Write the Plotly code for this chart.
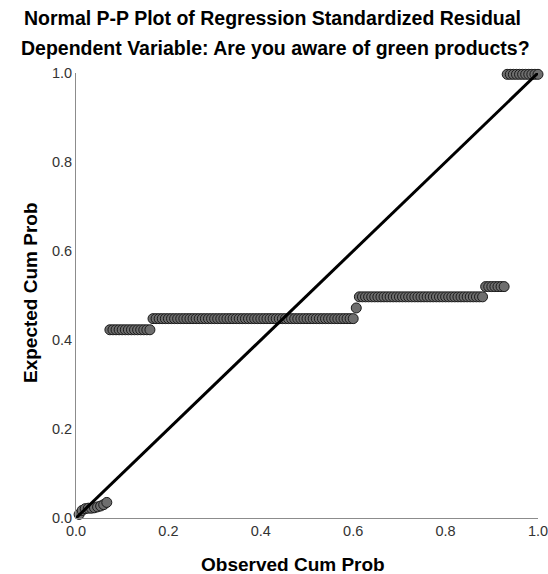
import plotly.graph_objects as go

# Expected cumulative probability levels (runs of tied residuals) and how many cases sit at each level
expected_levels = [0.008, 0.017, 0.021, 0.022, 0.022, 0.023, 0.025, 0.027, 0.030, 0.035,
                   0.423, 0.448, 0.472, 0.497, 0.520, 0.997]
level_counts = [1, 1, 1, 1, 1, 1, 1, 1, 1, 1,
                14, 66, 1, 41, 7, 11]
n_cases = 150

tick_vals = [0.0, 0.2, 0.4, 0.6, 0.8, 1.0]
tick_text = ["0.0", "0.2", "0.4", "0.6", "0.8", "1.0"]

title_line1 = "Normal P-P Plot of Regression Standardized Residual"
title_line2 = "Dependent Variable: Are you aware of green products?"
x_title = "Observed Cum Prob"
y_title = "Expected Cum Prob"

# Build observed (rank / n) and expected arrays from the runs
observed, expected = [], []
rank = 0
for lvl, cnt in zip(expected_levels, level_counts):
    for _ in range(cnt):
        rank += 1
        observed.append(rank / n_cases)
        expected.append(lvl)

FONT = "Liberation Sans, Arial, sans-serif"

W, H = 548, 574
L, R, T, B = 76, 548 - 538, 73, 574 - 518

fig = go.Figure()
fig.add_trace(go.Scatter(
    x=observed, y=expected, mode="markers",
    marker=dict(size=10, color="#6e6e6e", line=dict(color="#1a1a1a", width=1)),
    cliponaxis=False, hoverinfo="skip", showlegend=False,
))
fig.add_trace(go.Scatter(
    x=[0, 1], y=[0, 1], mode="lines",
    line=dict(color="black", width=3),
    cliponaxis=False, hoverinfo="skip", showlegend=False,
))

axis_common = dict(
    range=[0, 1], tickvals=tick_vals, ticktext=tick_text,
    showgrid=False, zeroline=False, showline=True, linecolor="#8c8c8c", linewidth=1,
    ticks="", tickfont=dict(family=FONT, size=14.5, color="#333333"),
    ticklabeloverflow="allow", automargin=False, fixedrange=True,
)
fig.update_xaxes(**axis_common)
fig.update_yaxes(**axis_common)

plot_w = W - L - R
plot_h = H - T - B
def px_to_paper_x(px):
    return (px - L) / plot_w
def px_to_paper_y(py):
    return (H - B - py) / plot_h

def ann(text, px, py, angle=0, size=19.5):
    return dict(text="<b>" + text + "</b>", x=px_to_paper_x(px), y=px_to_paper_y(py),
                xref="paper", yref="paper", xanchor="center", yanchor="middle",
                showarrow=False, textangle=angle,
                font=dict(family=FONT, size=size, color="black"))

fig.update_layout(
    width=W, height=H,
    margin=dict(l=L, r=R, t=T, b=B, autoexpand=False),
    paper_bgcolor="white", plot_bgcolor="white",
    font=dict(family=FONT),
    hovermode=False,
    annotations=[
        ann(title_line1, 272, 18),
        ann(title_line2, 275, 48),
        ann(x_title, 293, 564, size=19),
        ann(y_title, 30, 293, -90, size=19),
    ],
)

fig.write_html(
    "out.html",
    config={"displayModeBar": False, "staticPlot": True},
    post_script="document.body.style.margin='0';document.body.style.overflow='hidden';",
)
